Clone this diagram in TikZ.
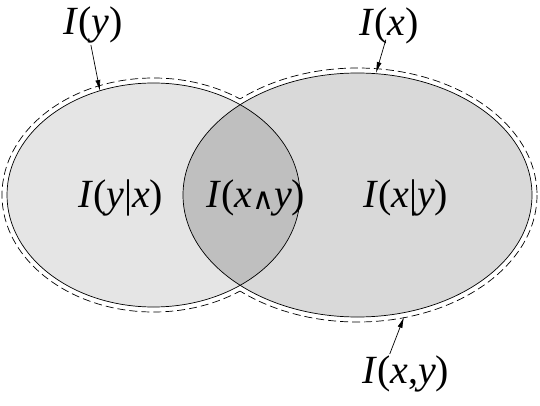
\documentclass[tikz,border=0pt]{standalone}
\usepackage{fontspec}
\setmainfont{Liberation Serif}
\newfontfamily\wedgefont{DejaVu Serif}
\usetikzlibrary{arrows.meta}
\newcommand{\FL}{\fontsize{40}{48}\selectfont}
\newcommand{\It}[1]{\textit{#1}}
\newcommand{\wdg}{{\wedgefont\fontsize{30}{34}\selectfont\raisebox{-2pt}{∧}}}

\begin{document}
\begin{tikzpicture}[x=1pt,y=-1pt]
\tikzstyle{texto}=[draw=none,fill=none,black,font=\FL,inner sep=1pt,anchor=base west]
\tikzstyle{rim}=[black,line width=0.7pt]
\tikzstyle{hull}=[black,line width=0.7pt,dash pattern=on 8pt off 4pt]
\tikzstyle{pointer}=[black,line width=0.7pt,-{Latex[length=11pt,width=5pt]}]

\useasboundingbox (0,0) rectangle (540,406);

% shaded regions
\fill[black!10] (153.5,195) ellipse [x radius=146.5,y radius=112];
\fill[black!15] (357.5,195) ellipse [x radius=174.5,y radius=122];
\begin{scope}
\clip (153.5,195) ellipse [x radius=146.5,y radius=112];
\fill[black!25] (357.5,195) ellipse [x radius=174.5,y radius=122];
\end{scope}

% outlines
\draw[rim] (153.5,195) ellipse [x radius=146.5,y radius=112];
\draw[rim] (357.5,195) ellipse [x radius=174.5,y radius=122];

% dashed hull of the union
\begin{scope}[even odd rule]
\clip (-10,-10) rectangle (550,416)
  (357.5,195) ellipse [x radius=179.5,y radius=127];
\draw[hull] (153.5,195) ellipse [x radius=151.5,y radius=117];
\end{scope}
\begin{scope}[even odd rule]
\clip (-10,-10) rectangle (550,416)
  (153.5,195) ellipse [x radius=151.5,y radius=117];
\draw[hull] (357.5,195) ellipse [x radius=179.5,y radius=127];
\end{scope}

% labels
\node[texto] (Ly)   at (62,35)   {\It{I}(\It{y})};
\node[texto] (Lx)   at (358,36)  {\It{I}(\It{x})};
\node[texto] (Lxy)  at (361,383) {\It{I}(\It{x},\It{y})};
\node[texto] (Lyx)  at (77,207)  {\It{I}(\It{y}|\It{x})};
\node[texto] (Land) at (205,207) {\It{I}(\It{x}\wdg\It{y})};
\node[texto] (Lxgy) at (362,207) {\It{I}(\It{x}|\It{y})};

% pointers
\coordinate (ytip)  at (100,91);
\coordinate (xtip)  at (376,73);
\coordinate (xytip) at (404,317);
\draw[pointer] ([xshift=-2pt]Ly.south) -- (ytip);
\draw[pointer] ([xshift=-3pt,yshift=6pt]Lx.south) -- (xtip);
\draw[pointer] ([xshift=-16pt]Lxy.north) -- (xytip);
\end{tikzpicture}
\end{document}
